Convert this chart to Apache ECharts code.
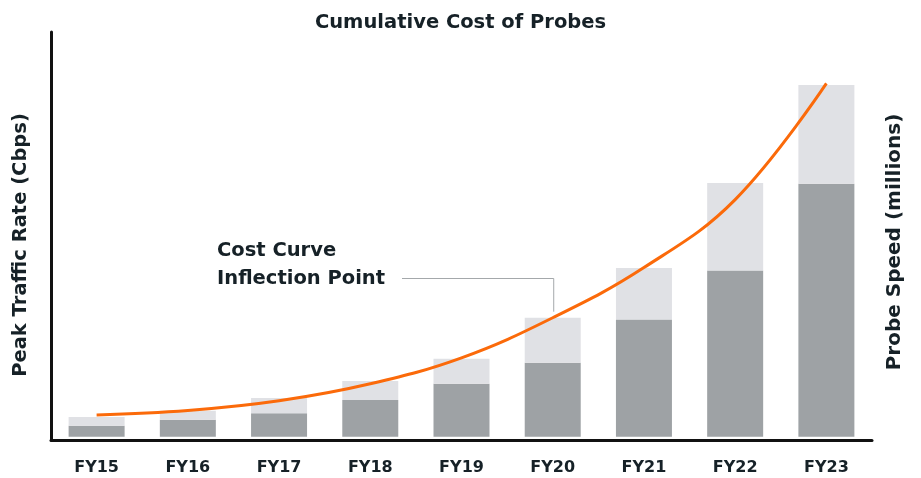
<!DOCTYPE html>
<html>
<head>
<meta charset="utf-8">
<script src="https://cdn.jsdelivr.net/npm/echarts@6/dist/echarts.min.js"></script>
<style>
  html, body { margin: 0; padding: 0; background: #fff; }
  #mainChart { width: 921px; height: 478px; }
</style>
</head>
<body>
<div id="mainChart"></div>
<script>
var years = ['FY15', 'FY16', 'FY17', 'FY18', 'FY19', 'FY20', 'FY21', 'FY22', 'FY23'];
// dark lower part of each bar
var baseCost = [2.7, 4.2, 5.8, 9.1, 13.1, 18.3, 29.0, 41.1, 62.5];
// light upper part stacked on top
var addedCost = [2.2, 2.2, 3.8, 4.7, 6.2, 11.1, 12.7, 21.6, 24.4];
// orange cost curve
var costCurve = [5.4, 6.5, 8.9, 13.1, 19.5, 29.4, 41.8, 58.6, 87.3];

var fontName = '"DejaVu Sans", sans-serif';
var textColor = '#162127';

var myChart = echarts.init(document.getElementById('mainChart'));

var option = {
    animation: false,
    title: {
        text: 'Cumulative Cost of Probes',
        left: 'center',
        top: 8,
        textStyle: { fontFamily: fontName, fontWeight: 'bold', fontSize: 19.5, color: textColor }
    },
    grid: { left: 51, right: 49, top: 32, bottom: 38 },
    xAxis: {
        type: 'category',
        data: years,
        axisLine: { onZero: false, lineStyle: { color: '#111', width: 3 } },
        axisTick: { show: false },
        axisLabel: { margin: 20, fontFamily: fontName, fontWeight: 'bold', fontSize: 16, color: textColor }
    },
    yAxis: [{
        type: 'value',
        min: -0.8,
        max: 100,
        name: 'Peak Traffic Rate (Cbps)',
        nameLocation: 'middle',
        nameGap: 20,
        // padding shifts the rotated name down a little
        nameTextStyle: { fontFamily: fontName, fontWeight: 'bold', fontSize: 19.5, color: textColor, padding: [0, 18, 0, 0] },
        axisLine: { show: true, lineStyle: { color: '#111', width: 3 } },
        axisTick: { show: false },
        axisLabel: { show: false },
        splitLine: { show: false }
    }, {
        type: 'value',
        position: 'right',
        min: -0.8,
        max: 100,
        name: 'Probe Speed (millions)',
        nameLocation: 'middle',
        nameRotate: 90,
        nameGap: 13,
        nameTextStyle: { fontFamily: fontName, fontWeight: 'bold', fontSize: 20, color: textColor, padding: [0, 12, 0, 0] },
        axisLine: { show: false },
        axisTick: { show: false },
        axisLabel: { show: false },
        splitLine: { show: false }
    }],
    series: [{
        name: 'Base',
        type: 'bar',
        stack: 'cost',
        barWidth: 56,
        itemStyle: { color: '#9ea2a5' },
        data: baseCost
    }, {
        name: 'Added',
        type: 'bar',
        stack: 'cost',
        barWidth: 56,
        itemStyle: { color: '#e0e1e5' },
        data: addedCost
    }, {
        name: 'Cost Curve',
        type: 'line',
        smooth: 0.4,
        symbol: 'none',
        lineStyle: { color: '#fb6a0a', width: 3 },
        data: costCurve
    }]
};

myChart.setOption(option);

// annotation with leader line pointing at FY20 curve
var tip = myChart.convertToPixel({ gridIndex: 0 }, ['FY20', costCurve[5] + 1.5]);
myChart.setOption({
    graphic: [{
        type: 'text',
        left: 217,
        top: 237,
        style: {
            text: 'Cost Curve\nInflection Point',
            fontFamily: fontName,
            fontWeight: 'bold',
            fontSize: 19.5,
            lineHeight: 28,
            fill: textColor
        }
    }, {
        type: 'polyline',
        shape: { points: [[402, 278.5], [tip[0] + 1, 278.5], [tip[0] + 1, tip[1]]] },
        style: { stroke: '#a4a8ab', lineWidth: 1, fill: null }
    }]
});
</script>
</body>
</html>
